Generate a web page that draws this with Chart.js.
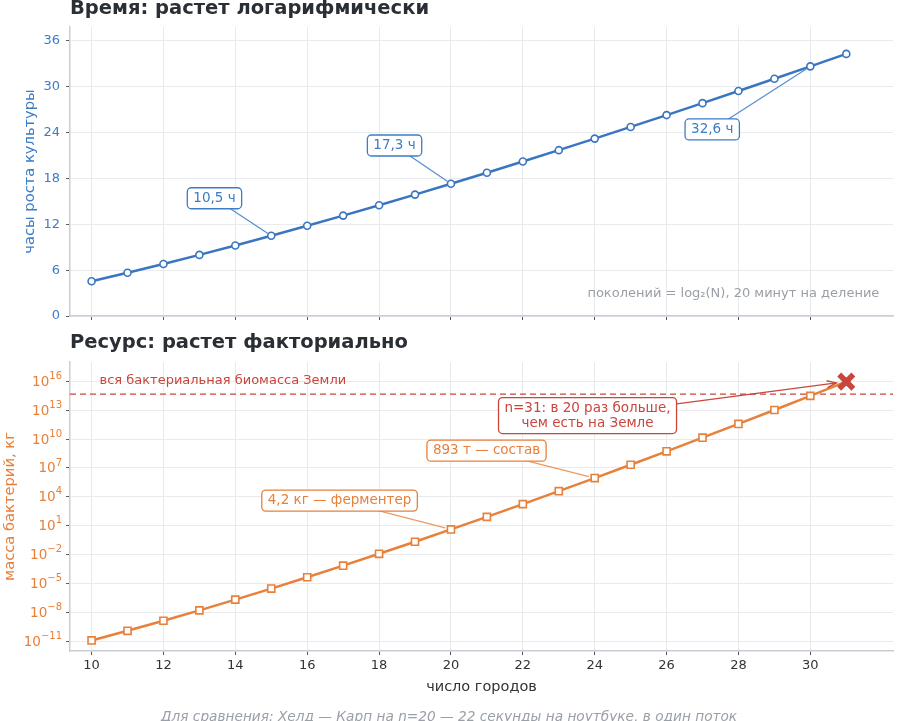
<!DOCTYPE html>
<html>
<head>
<meta charset="utf-8">
<title>Время и ресурс</title>
<script src="https://cdn.jsdelivr.net/npm/chart.js@4.4.1/dist/chart.umd.min.js"></script>
<style>
  html, body { margin: 0; padding: 0; background: #fff; }
  #wrap { position: relative; width: 898px; height: 721px; overflow: hidden; }
  .box { position: absolute; left: 0; width: 898px; }
  #note { position: absolute; left: 0; width: 898px; top: 707px; text-align: center;
          font: italic 13.7px "DejaVu Sans"; color: #9aa0a8; line-height: 18px; }
</style>
</head>
<body>
<div id="wrap">
  <div class="box" style="top:0;height:330px"><canvas id="timeChart"></canvas></div>
  <div class="box" style="top:330px;height:391px"><canvas id="massChart"></canvas></div>
  <div id="note">Для сравнения: Хелд — Карп на n=20 — 22 секунды на ноутбуке, в один поток</div>
</div>
<script>
// -------------------------------
// ДАННЫЕ
// -------------------------------
const CITIES = [10, 11, 12, 13, 14, 15, 16, 17, 18, 19, 20, 21, 22, 23, 24, 25, 26, 27, 28, 29, 30, 31];

// часы роста культуры (20 минут на поколение)
const HOURS = [4.54, 5.65, 6.80, 7.99, 9.23, 10.50, 11.80, 13.13, 14.49, 15.88, 17.30,
               18.74, 20.20, 21.69, 23.20, 24.73, 26.28, 27.84, 29.43, 31.03, 32.65, 34.28];

// масса бактерий, кг
const MASS = [1.25e-11, 1.25e-10, 1.38e-9, 1.65e-8, 2.15e-7, 3.01e-6, 4.52e-5, 7.23e-4,
              1.23e-2, 0.221, 4.20, 84.0, 1765, 3.88e4, 8.93e5, 2.14e7, 5.36e8, 1.39e10,
              3.76e11, 1.05e13, 3.05e14, 9.16e15];

const EARTH_BIOMASS = 4.6e14; // кг

const X_TICKS = [10, 12, 14, 16, 18, 20, 22, 24, 26, 28, 30];
const HOUR_TICKS = [0, 6, 12, 18, 24, 30, 36];
const MASS_TICKS = [1e-11, 1e-8, 1e-5, 1e-2, 1e1, 1e4, 1e7, 1e10, 1e13, 1e16];
const MASS_TICK_EXP = ["−11", "−8", "−5", "−2", "1", "4", "7", "10", "13", "16"];

// -------------------------------
// ЦВЕТА
// -------------------------------
const BLUE = "#3a76bf";
const BLUE_TXT = "#3d7cc6";
const ORANGE = "#e8803a";
const RED = "#c9463d";
const GRID = "#e8eaee";
const SPINE = "#c9cdd5";
const TICK = "#555a62";
const DARK = "#2a2e35";

Chart.defaults.font.family = '"DejaVu Sans", sans-serif';
Chart.defaults.font.size = 13;
Chart.defaults.animation = false;

// заголовок слева над областью графика
function titlePlugin(text, y) {
  return {
    id: "leftTitle",
    afterDraw(chart) {
      const ctx = chart.ctx;
      ctx.save();
      ctx.font = 'bold 19.5px "DejaVu Sans"';
      ctx.fillStyle = DARK;
      ctx.textBaseline = "middle";
      ctx.fillText(text, chart.chartArea.left, y);
      ctx.restore();
    }
  };
}

// подписи 10^k на логарифмической оси
const powerLabels = {
  id: "powerLabels",
  afterDraw(chart) {
    const { ctx, chartArea, scales: { y } } = chart;
    const right = chartArea.left - 8;
    ctx.save();
    ctx.fillStyle = ORANGE;
    ctx.textAlign = "right";
    ctx.textBaseline = "middle";
    MASS_TICKS.forEach((v, i) => {
      const py = y.getPixelForValue(v);
      ctx.font = '10px "DejaVu Sans"';
      const ew = ctx.measureText(MASS_TICK_EXP[i]).width;
      ctx.fillText(MASS_TICK_EXP[i], right, py - 5);
      ctx.font = '13.5px "DejaVu Sans"';
      ctx.fillText("10", right - ew, py + 1);
    });
    ctx.restore();
  }
};

// подписи в рамках со стрелками
function calloutPlugin(items) {
  return {
    id: "callouts",
    afterDatasetsDraw(chart) {
      const { ctx, scales: { x, y } } = chart;
      items.forEach(a => {
        const bx = x.getPixelForValue(a.at[0]), by = y.getPixelForValue(a.at[1]);
        ctx.save();
        ctx.font = (a.size || 13.5) + 'px "DejaVu Sans"';
        if (a.to) {
          const tx = x.getPixelForValue(a.to[0]), ty = y.getPixelForValue(a.to[1]);
          const dx = tx - bx, dy = ty - by, len = Math.hypot(dx, dy);
          const ex = tx - dx / len * (a.shrink || 4), ey = ty - dy / len * (a.shrink || 4);
          ctx.strokeStyle = a.line || a.color;
          ctx.lineWidth = 1.3;
          ctx.beginPath();
          ctx.moveTo(bx, by);
          ctx.lineTo(ex, ey);
          ctx.stroke();
          if (a.arrow) {
            const ang = Math.atan2(dy, dx);
            ctx.beginPath();
            ctx.moveTo(ex - 10 * Math.cos(ang - 0.35), ey - 10 * Math.sin(ang - 0.35));
            ctx.lineTo(ex, ey);
            ctx.lineTo(ex - 10 * Math.cos(ang + 0.35), ey - 10 * Math.sin(ang + 0.35));
            ctx.stroke();
          }
        }
        const lines = a.text.split("\n");
        const lh = 15;
        if (a.box !== false) {
          const w = Math.max(...lines.map(l => ctx.measureText(l).width)) + 12;
          const h = lines.length * lh + 6;
          ctx.beginPath();
          ctx.roundRect(bx - w / 2, by - h / 2, w, h, 4);
          ctx.fillStyle = "#fff";
          ctx.fill();
          ctx.strokeStyle = a.color;
          ctx.lineWidth = 1.3;
          ctx.stroke();
        }
        ctx.fillStyle = a.color;
        ctx.textBaseline = "middle";
        ctx.textAlign = a.align || "center";
        lines.forEach((l, i) => {
          ctx.fillText(l, bx, by + (i - (lines.length - 1) / 2) * lh);
        });
        ctx.restore();
      });
    }
  };
}

// линия биомассы Земли
const earthLine = {
  id: "earthLine",
  beforeDatasetsDraw(chart) {
    const { ctx, chartArea, scales: { y } } = chart;
    const py = y.getPixelForValue(EARTH_BIOMASS);
    ctx.save();
    ctx.strokeStyle = RED;
    ctx.lineWidth = 1.4;
    ctx.setLineDash([6, 4]);
    ctx.beginPath();
    ctx.moveTo(chartArea.left, py);
    ctx.lineTo(chartArea.right, py);
    ctx.stroke();
    ctx.restore();
  }
};

function xAxis(height, showLabels) {
  return {
    type: "linear",
    min: 9.4,
    max: 32.3,
    afterBuildTicks: s => { s.ticks = X_TICKS.map(v => ({ value: v })); },
    afterFit: s => { s.height = height; s.paddingLeft = 0; s.paddingRight = 0; },
    grid: { color: GRID, tickColor: TICK, tickLength: 4 },
    border: { color: SPINE, width: 1.5 },
    ticks: { display: showLabels, color: "#333", padding: 3, font: { size: 13 } },
    title: {
      display: showLabels,
      text: "число городов",
      color: "#333",
      font: { size: 14.5 },
      padding: { top: 0, bottom: 0 }
    }
  };
}

// -------------------------------
// ВРЕМЯ
// -------------------------------
new Chart(document.getElementById("timeChart"), {
  type: "line",
  data: {
    datasets: [{
      data: CITIES.map((n, i) => ({ x: n, y: HOURS[i] })),
      borderColor: BLUE,
      borderWidth: 2.5,
      pointBackgroundColor: "#fff",
      pointBorderColor: BLUE,
      pointBorderWidth: 1.6,
      pointRadius: 3.5,
      tension: 0
    }]
  },
  options: {
    responsive: true,
    maintainAspectRatio: false,
    layout: { autoPadding: false, padding: { top: 27, right: 5, left: 0, bottom: 0 } },
    plugins: { legend: { display: false }, tooltip: { enabled: false } },
    scales: {
      x: xAxis(14, false),
      y: {
        min: 0,
        max: 37.8,
        afterBuildTicks: s => { s.ticks = HOUR_TICKS.map(v => ({ value: v })); },
        afterFit: s => { s.width = 70; },
        grid: { color: GRID, tickColor: TICK, tickLength: 4 },
        border: { color: SPINE, width: 1.5 },
        ticks: { color: BLUE_TXT, padding: 6, font: { size: 13 } },
        title: {
          display: true,
          text: "часы роста культуры",
          color: BLUE_TXT,
          font: { size: 14.7 },
          padding: { top: 21 }
        }
      }
    }
  },
  plugins: [
    titlePlugin("Время: растет логарифмически", 9),
    calloutPlugin([
      { text: "10,5 ч", at: [13.42, 15.4], to: [15, 10.50], color: BLUE_TXT, line: "#5a8fcf" },
      { text: "17,3 ч", at: [18.43, 22.3], to: [20, 17.30], color: BLUE_TXT, line: "#5a8fcf" },
      { text: "32,6 ч", at: [27.27, 24.4], to: [30, 32.65], color: BLUE_TXT, line: "#5a8fcf" },
      { text: "поколений = log₂(N), 20 минут на деление", at: [31.92, 2.9], color: "#9a9ea6",
        box: false, align: "right", size: 13 }
    ])
  ]
});

// -------------------------------
// РЕСУРС
// -------------------------------
new Chart(document.getElementById("massChart"), {
  type: "line",
  data: {
    datasets: [{
      data: [{ x: CITIES[CITIES.length - 1], y: MASS[MASS.length - 1] }],
      showLine: false,
      pointStyle: "crossRot",
      pointRadius: 10,
      pointBorderWidth: 5.5,
      pointBorderColor: RED,
      order: 0
    }, {
      data: CITIES.map((n, i) => ({ x: n, y: MASS[i] })),
      borderColor: ORANGE,
      borderWidth: 2.5,
      pointStyle: "rect",
      pointBackgroundColor: "#fff",
      pointBorderColor: ORANGE,
      pointBorderWidth: 1.6,
      pointRadius: 5,
      tension: 0,
      order: 1
    }]
  },
  options: {
    responsive: true,
    maintainAspectRatio: false,
    layout: { autoPadding: false, padding: { top: 32, right: 5, left: 0, bottom: 25 } },
    plugins: { legend: { display: false }, tooltip: { enabled: false } },
    scales: {
      x: xAxis(45, true),
      y: {
        type: "logarithmic",
        min: 1e-12,
        max: 1e18,
        afterBuildTicks: s => { s.ticks = MASS_TICKS.map(v => ({ value: v })); },
        afterFit: s => { s.width = 70; },
        grid: { color: GRID, tickColor: TICK, tickLength: 4 },
        border: { color: SPINE, width: 1.5 },
        ticks: { color: ORANGE, padding: 6, callback: () => "" },
        title: {
          display: true,
          text: "масса бактерий, кг",
          color: ORANGE,
          font: { size: 14.7 },
          padding: { top: 1 }
        }
      }
    }
  },
  plugins: [
    titlePlugin("Ресурс: растет факториально", 13),
    earthLine,
    powerLabels,
    calloutPlugin([
      { text: "вся бактериальная биомасса Земли", at: [10.22, 1.2e16], color: RED,
        box: false, align: "left", size: 13 },
      { text: "4,2 кг — ферментер", at: [16.9, 4.1e3], to: [20, 4.20], color: ORANGE, line: "#ee9a5e", shrink: 6 },
      { text: "893 т — состав", at: [20.99, 6.3e8], to: [24, 8.93e5], color: ORANGE, line: "#ee9a5e", shrink: 6 },
      { text: "n=31: в 20 раз больше,\nчем есть на Земле", at: [23.8, 2.75e12], to: [31, 9.16e15],
        color: RED, line: RED, shrink: 10, arrow: true }
    ])
  ]
});
</script>
</body>
</html>
